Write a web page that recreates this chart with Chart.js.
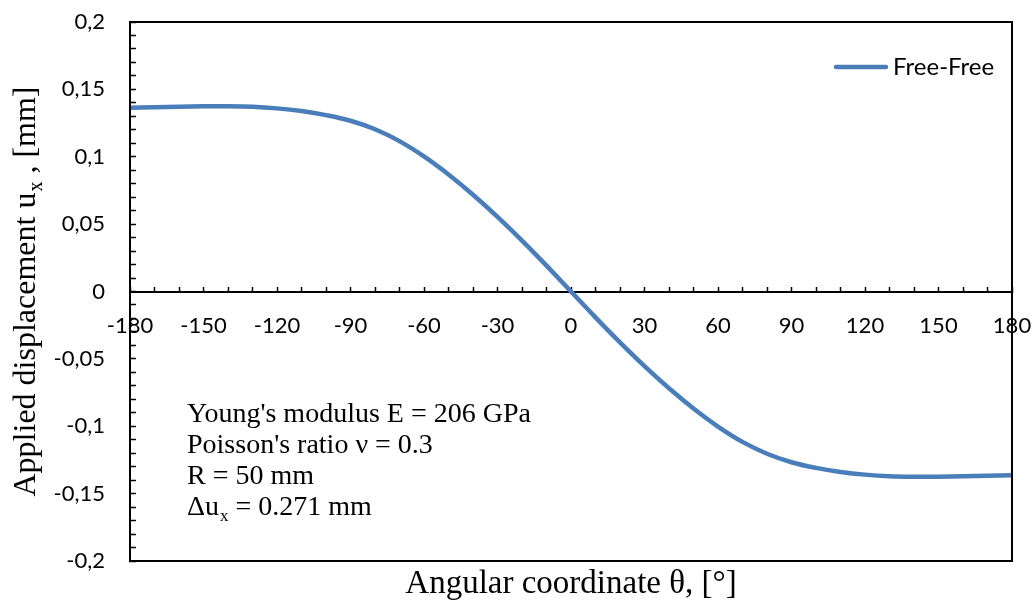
<!DOCTYPE html>
<html>
<head>
<meta charset="utf-8">
<script src="https://cdn.jsdelivr.net/npm/chart.js@4/dist/chart.umd.min.js"></script>
<style>
  html, body { margin: 0; padding: 0; background: #fff; }
</style>
</head>
<body>
<canvas id="chart" width="1035" height="604"></canvas>
<script>
// angular coordinate (deg) and the applied displacement u_x (mm)
const theta = [
  -180, -170, -160, -150, -140, -130, -120, -110, -100, -90,
  -80, -70, -60, -50, -40, -30, -20, -10, 0,
  10, 20, 30, 40, 50, 60, 70, 80, 90,
  100, 110, 120, 130, 140, 150, 160, 170, 180,
];
const freeFree = [
  0.1363, 0.1367, 0.1371, 0.1374, 0.1375, 0.1371, 0.1359, 0.1339, 0.1309, 0.1267,
  0.1204, 0.1116, 0.1002, 0.0868, 0.0718, 0.0554, 0.0378, 0.0192, 0,
  -0.0192, -0.0378, -0.0554, -0.0718, -0.0868, -0.1002, -0.1116, -0.1204, -0.1267,
  -0.1309, -0.1339, -0.1359, -0.1371, -0.1375, -0.1374, -0.1371, -0.1367, -0.1363,
];
const seriesName = "Free-Free";
const notes = [
  ["Young's modulus E = 206 GPa"],
  ["Poisson's ratio \u03bd = 0.3"],
  ["R = 50 mm"],
  ["\u0394u", "x", " = 0.271 mm"],
];

const tickFont = { family: "Lato", size: 22 };
const serif = "Liberation Serif";

// text with an optional subscript part: [before, sub, after]
function drawSub(ctx, parts, x, y, size) {
  ctx.font = size + "px '" + serif + "'";
  ctx.fillText(parts[0], x, y);
  let w = ctx.measureText(parts[0]).width;
  if (parts.length > 1) {
    ctx.font = Math.round(size * 0.62) + "px '" + serif + "'";
    ctx.fillText(parts[1], x + w + 1, y + size * 0.22);
    w += ctx.measureText(parts[1]).width + 1;
    ctx.font = size + "px '" + serif + "'";
    ctx.fillText(parts[2], x + w, y);
  }
}

function subWidth(ctx, parts, size) {
  ctx.font = size + "px '" + serif + "'";
  let w = ctx.measureText(parts[0]).width;
  if (parts.length > 1) {
    ctx.font = Math.round(size * 0.62) + "px '" + serif + "'";
    w += ctx.measureText(parts[1]).width + 1;
    ctx.font = size + "px '" + serif + "'";
    w += ctx.measureText(parts[2]).width;
  }
  return w;
}

const decorations = {
  id: "decorations",
  afterDraw(chart) {
    const { ctx, chartArea: a } = chart;
    ctx.save();
    // frame around the plot
    ctx.strokeStyle = "#000";
    ctx.lineWidth = 2;
    ctx.strokeRect(a.left, a.top, a.right - a.left, a.bottom - a.top);

    // legend
    const ds = chart.data.datasets[0];
    ctx.strokeStyle = ds.borderColor;
    ctx.lineWidth = ds.borderWidth;
    ctx.lineCap = "round";
    ctx.beginPath();
    ctx.moveTo(836, 67);
    ctx.lineTo(886, 67);
    ctx.stroke();
    ctx.fillStyle = "#000";
    ctx.font = "24px Lato";
    ctx.textBaseline = "middle";
    ctx.textAlign = "left";
    ctx.fillText(ds.label, 893, 67);

    // material notes
    ctx.textBaseline = "alphabetic";
    notes.forEach((n, i) => drawSub(ctx, n, 187, 422 + i * 31, 28));

    // axis titles
    const xTitle = "Angular coordinate \u03b8, [\u00b0]";
    ctx.font = "33px '" + serif + "'";
    ctx.textAlign = "center";
    ctx.fillText(xTitle, (a.left + a.right) / 2, 593);

    const yTitle = ["Applied displacement u", "x", " , [mm]"];
    ctx.translate(35, (a.top + a.bottom) / 2);
    ctx.rotate(-Math.PI / 2);
    ctx.textAlign = "left";
    const w = subWidth(ctx, yTitle, 32);
    drawSub(ctx, yTitle, -w / 2, 0, 32);
    ctx.restore();
  },
};

new Chart(document.getElementById("chart"), {
  type: "line",
  data: {
    labels: theta,
    datasets: [
      {
        label: seriesName,
        data: theta.map((t, i) => ({ x: t, y: freeFree[i] })),
        borderColor: "#4a7ebb",
        borderWidth: 4.5,
        borderCapStyle: "round",
        pointRadius: 0,
        fill: false,
        tension: 0.4,
      },
    ],
  },
  options: {
    responsive: false,
    animation: false,
    layout: { padding: { left: 0, top: 22, right: 23, bottom: 43 } },
    plugins: { legend: { display: false }, tooltip: { enabled: false } },
    scales: {
      x: {
        type: "linear",
        min: -180,
        max: 180,
        position: { y: 0 },
        afterFit(s) {
          s.height = 0;
          s.paddingLeft = 0;
          s.paddingRight = 0;
        },
        grid: {
          drawOnChartArea: false,
          tickLength: -6,
          tickColor: "#000",
          tickWidth: 1.5,
        },
        border: { color: "#000", width: 2 },
        ticks: {
          stepSize: 10,
          autoSkip: false,
          maxRotation: 0,
          padding: 27,
          color: "#000",
          font: tickFont,
          callback: (v) => (v % 30 === 0 ? String(v) : ""),
        },
      },
      y: {
        min: -0.2,
        max: 0.2,
        afterFit(s) {
          s.width = 130;
          s.paddingTop = 0;
          s.paddingBottom = 0;
        },
        grid: {
          drawOnChartArea: false,
          tickLength: -6,
          tickColor: "#000",
          tickWidth: 1.5,
        },
        border: { color: "#000", width: 2 },
        ticks: {
          stepSize: 0.01,
          autoSkip: false,
          padding: 31,
          color: "#000",
          font: tickFont,
          callback: (v) => {
            const c = Math.round(v * 100);
            if (c % 5 !== 0) return "";
            return String(c / 100).replace(".", ",");
          },
        },
      },
    },
  },
  plugins: [decorations],
});
</script>
</body>
</html>
